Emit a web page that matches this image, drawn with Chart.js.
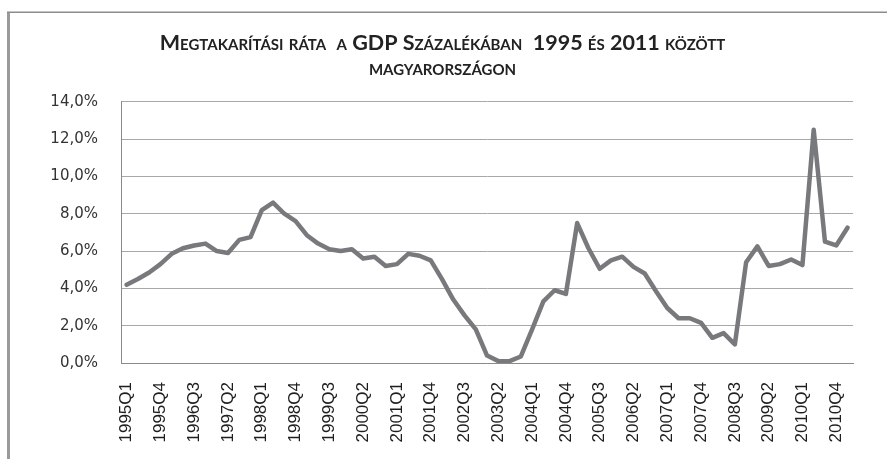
<!DOCTYPE html>
<html>
<head>
<meta charset="utf-8">
<script src="https://cdn.jsdelivr.net/npm/chart.js@4.4.1/dist/chart.umd.min.js"></script>
<style>
  html, body { margin: 0; padding: 0; background: #fff; }
  #wrap { width: 887px; height: 459px; position: relative; }
</style>
</head>
<body>
<div id="wrap"><canvas id="rataChart" width="887" height="459"></canvas></div>
<script>
// negyedéves adatok 1995Q1 - 2011Q1
const negyedevek = [
  '1995Q1','1995Q2','1995Q3','1995Q4','1996Q1','1996Q2','1996Q3','1996Q4',
  '1997Q1','1997Q2','1997Q3','1997Q4','1998Q1','1998Q2','1998Q3','1998Q4',
  '1999Q1','1999Q2','1999Q3','1999Q4','2000Q1','2000Q2','2000Q3','2000Q4',
  '2001Q1','2001Q2','2001Q3','2001Q4','2002Q1','2002Q2','2002Q3','2002Q4',
  '2003Q1','2003Q2','2003Q3','2003Q4','2004Q1','2004Q2','2004Q3','2004Q4',
  '2005Q1','2005Q2','2005Q3','2005Q4','2006Q1','2006Q2','2006Q3','2006Q4',
  '2007Q1','2007Q2','2007Q3','2007Q4','2008Q1','2008Q2','2008Q3','2008Q4',
  '2009Q1','2009Q2','2009Q3','2009Q4','2010Q1','2010Q2','2010Q3','2010Q4',
  '2011Q1'
];

const megtakaritasiRata = [
  4.2, 4.5, 4.85, 5.3, 5.85, 6.15, 6.3, 6.4,
  6.0, 5.9, 6.6, 6.75, 8.2, 8.6, 8.0, 7.6,
  6.85, 6.4, 6.1, 6.0, 6.1, 5.6, 5.7, 5.2,
  5.3, 5.85, 5.75, 5.5, 4.5, 3.4, 2.55, 1.8,
  0.4, 0.1, 0.1, 0.35, 1.8, 3.3, 3.9, 3.7,
  7.5, 6.15, 5.05, 5.5, 5.7, 5.15, 4.8, 3.85,
  2.95, 2.4, 2.4, 2.15, 1.35, 1.6, 1.0, 5.4,
  6.25, 5.2, 5.3, 5.55, 5.25, 12.5, 6.5, 6.3,
  7.25
];

const yTicks = [0, 2, 4, 6, 8, 10, 12, 14];
const cimSorok = ['Megtakarítási ráta  a GDP Százalékában  1995 és 2011 között', 'magyarországon'];

// kulso keret (Excel-szeru)
const keretPlugin = {
  id: 'keret',
  beforeDraw(chart) {
    const ctx = chart.ctx;
    ctx.save();
    ctx.fillStyle = '#fff';
    ctx.fillRect(0, 0, chart.width, chart.height);
    ctx.fillStyle = '#9a9a9a';
    ctx.fillRect(7, 12, 3, chart.height);
    ctx.fillStyle = '#8c8c8c';
    ctx.fillRect(7, 11.5, chart.width, 1.5);
    ctx.restore();
  }
};

new Chart(document.getElementById('rataChart'), {
  type: 'line',
  data: {
    labels: negyedevek,
    datasets: [{
      data: megtakaritasiRata,
      borderColor: '#78797c',
      borderWidth: 4.5,
      borderJoinStyle: 'round',
      borderCapStyle: 'round',
      pointRadius: 0,
      tension: 0,
      fill: false
    }]
  },
  options: {
    responsive: false,
    animation: false,
    layout: { padding: { left: 12, right: 14, top: 0, bottom: 0 } },
    plugins: {
      legend: { display: false },
      tooltip: { enabled: false },
      title: {
        display: true,
        text: cimSorok,
        color: '#222',
        font: { family: 'Lato', size: 21.5, weight: 'small-caps bold', lineHeight: 1.17 },
        padding: { top: 30, bottom: 21.5 }
      }
    },
    scales: {
      x: {
        offset: true,
        grid: { display: false, drawTicks: false, offset: true },
        border: { display: true, color: '#8a8a8a', width: 1 },
        ticks: {
          autoSkip: false,
          maxRotation: 90,
          minRotation: 90,
          padding: 19,
          color: '#1e1e1e',
          font: { family: 'Liberation Sans', size: 17 },
          callback: function (v, i) { return i % 3 === 0 ? negyedevek[i] : ''; }
        },
        afterFit: s => { s.height = 96; }
      },
      y: {
        min: 0,
        max: 14,
        afterBuildTicks: s => { s.ticks = yTicks.map(v => ({ value: v })); },
        grid: { color: '#a8a8a8', lineWidth: 1, drawTicks: false },
        border: { display: true, color: '#8a8a8a', width: 1 },
        ticks: {
          padding: 23,
          color: '#333',
          font: { family: 'DejaVu Sans', size: 15 },
          callback: v => v.toFixed(1).replace('.', ',') + '%'
        },
        afterFit: s => { s.width = 121 - 12; }
      }
    }
  },
  plugins: [keretPlugin]
});
</script>
</body>
</html>
